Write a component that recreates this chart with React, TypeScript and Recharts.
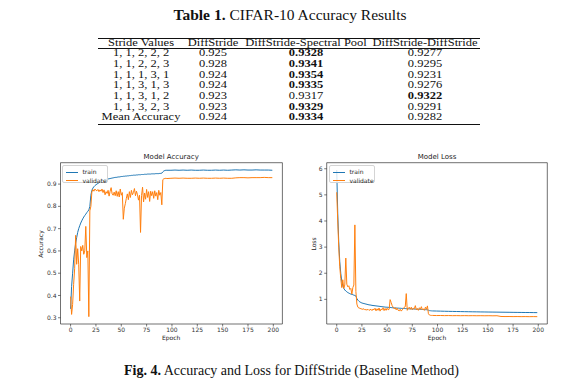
import React from "react";
import { LineChart, Line, XAxis, YAxis, ReferenceArea } from "recharts";

// epochs sampled from the training logs (every epoch while noisy, then every 4)
const epochs = [
  0, 1, 2, 3, 4, 5, 6, 7, 8, 9,
  10, 11, 12, 13, 14, 15, 16, 17, 18, 19,
  20, 21, 22, 23, 24, 25, 26, 27, 28, 29,
  30, 31, 32, 33, 34, 35, 36, 37, 38, 39,
  40, 41, 42, 43, 44, 45, 46, 47, 48, 49,
  50, 51, 52, 53, 54, 55, 56, 57, 58, 59,
  60, 61, 62, 63, 64, 65, 66, 67, 68, 69,
  70, 71, 72, 73, 74, 75, 76, 77, 78, 79,
  80, 81, 82, 83, 84, 85, 86, 87, 88, 89,
  90, 91, 92, 93, 94, 95,
  99, 103, 107, 111, 115, 119, 123, 127, 131, 135, 139, 143, 147,
  151, 155, 159, 163, 167, 171, 175, 179, 183, 187, 191, 195, 199,
];

const accTrain = [
  0.340, 0.440, 0.500, 0.560, 0.600, 0.635, 0.660, 0.683, 0.700, 0.713,
  0.725, 0.735, 0.744, 0.752, 0.759, 0.765, 0.772, 0.778, 0.784, 0.800,
  0.850, 0.872, 0.882, 0.888, 0.893, 0.897, 0.900, 0.903, 0.906, 0.909,
  0.912, 0.914, 0.916, 0.918, 0.919, 0.921, 0.922, 0.923, 0.924, 0.925,
  0.926, 0.927, 0.928, 0.929, 0.930, 0.930, 0.931, 0.932, 0.932, 0.933,
  0.934, 0.934, 0.935, 0.935, 0.936, 0.936, 0.937, 0.937, 0.938, 0.938,
  0.939, 0.939, 0.940, 0.940, 0.940, 0.941, 0.941, 0.942, 0.942, 0.942,
  0.943, 0.943, 0.943, 0.944, 0.944, 0.944, 0.945, 0.945, 0.945, 0.945,
  0.946, 0.946, 0.946, 0.946, 0.947, 0.947, 0.947, 0.947, 0.948, 0.948,
  0.949, 0.955, 0.959, 0.961, 0.962, 0.962,
  0.962, 0.963, 0.962, 0.963, 0.962, 0.963, 0.962, 0.962, 0.963, 0.962, 0.962, 0.963, 0.962,
  0.963, 0.962, 0.963, 0.964, 0.963, 0.964, 0.963, 0.963, 0.964, 0.963, 0.963, 0.963, 0.962,
];

const accValidate = [
  0.395, 0.315, 0.360, 0.450, 0.520, 0.670, 0.540, 0.610, 0.540, 0.375,
  0.620, 0.600, 0.625, 0.585, 0.600, 0.710, 0.570, 0.600, 0.305, 0.780,
  0.800, 0.865, 0.875, 0.868, 0.878, 0.872, 0.870, 0.876, 0.866, 0.874,
  0.868, 0.878, 0.862, 0.874, 0.852, 0.866, 0.858, 0.872, 0.846, 0.868,
  0.884, 0.856, 0.850, 0.864, 0.848, 0.870, 0.845, 0.866, 0.842, 0.878,
  0.850, 0.862, 0.742, 0.792, 0.812, 0.836, 0.856, 0.830, 0.866, 0.840,
  0.872, 0.852, 0.862, 0.880, 0.848, 0.868, 0.852, 0.828, 0.850, 0.683,
  0.848, 0.886, 0.820, 0.860, 0.832, 0.876, 0.840, 0.866, 0.822, 0.868,
  0.848, 0.866, 0.836, 0.870, 0.846, 0.862, 0.830, 0.872, 0.850, 0.862,
  0.807, 0.920, 0.924, 0.925, 0.926, 0.925,
  0.926, 0.927, 0.926, 0.927, 0.926, 0.926, 0.927, 0.926, 0.927, 0.926, 0.926, 0.927, 0.926,
  0.927, 0.926, 0.926, 0.928, 0.929, 0.929, 0.928, 0.929, 0.929, 0.929, 0.930, 0.929, 0.929,
];

const lossTrain = [
  5.95, 4.30, 3.20, 2.45, 2.00, 1.70, 1.52, 1.42, 1.36, 1.32,
  1.29, 1.26, 1.24, 1.22, 1.20, 1.19, 1.18, 1.16, 1.15, 1.13,
  1.03, 0.97, 0.93, 0.90, 0.88, 0.86, 0.85, 0.84, 0.83, 0.82,
  0.81, 0.80, 0.79, 0.785, 0.78, 0.77, 0.765, 0.76, 0.755, 0.75,
  0.745, 0.74, 0.735, 0.73, 0.725, 0.72, 0.715, 0.71, 0.705, 0.70,
  0.70, 0.695, 0.69, 0.69, 0.685, 0.68, 0.68, 0.675, 0.67, 0.67,
  0.665, 0.665, 0.66, 0.66, 0.655, 0.655, 0.65, 0.65, 0.648, 0.645,
  0.643, 0.64, 0.638, 0.636, 0.634, 0.632, 0.63, 0.628, 0.626, 0.624,
  0.622, 0.62, 0.618, 0.616, 0.614, 0.612, 0.61, 0.608, 0.606, 0.604,
  0.60, 0.585, 0.57, 0.565, 0.56, 0.557,
  0.553, 0.549, 0.545, 0.541, 0.538, 0.535, 0.532, 0.529, 0.527, 0.524, 0.522, 0.519, 0.517,
  0.515, 0.513, 0.511, 0.509, 0.507, 0.505, 0.503, 0.501, 0.499, 0.497, 0.496, 0.494, 0.492,
];

const lossValidate = [
  5.10, 4.00, 3.00, 2.25, 1.80, 1.45, 1.75, 1.42, 1.55, 2.58,
  1.58, 1.48, 1.52, 1.38, 1.42, 1.20, 1.45, 1.55, 3.85, 1.30,
  0.82, 0.70, 0.67, 0.66, 0.64, 0.63, 0.62, 0.64, 0.60, 0.61,
  0.59, 0.62, 0.58, 0.60, 0.62, 0.57, 0.63, 0.60, 0.66, 0.56,
  0.64, 0.58, 0.67, 0.55, 0.63, 0.60, 0.68, 0.57, 0.65, 0.58,
  0.66, 0.60, 0.62, 0.99, 0.88, 0.76, 0.70, 0.64, 0.68, 0.60,
  0.66, 0.58, 0.56, 0.62, 0.55, 0.60, 0.64, 0.70, 0.72, 1.22,
  0.58, 0.66, 0.70, 0.62, 0.70, 0.60, 0.66, 0.64, 0.76, 0.60,
  0.65, 0.58, 0.68, 0.62, 0.72, 0.60, 0.64, 0.58, 0.70, 0.62,
  0.75, 0.45, 0.40, 0.39, 0.385, 0.385,
  0.380, 0.382, 0.378, 0.380, 0.376, 0.378, 0.375, 0.377, 0.374, 0.376, 0.373, 0.375, 0.372,
  0.374, 0.371, 0.373, 0.345, 0.342, 0.343, 0.340, 0.342, 0.339, 0.341, 0.338, 0.340, 0.338,
];

const epochTicks = [0, 25, 50, 75, 100, 125, 150, 175, 200];
const accTicks = [0.3, 0.4, 0.5, 0.6, 0.7, 0.8, 0.9];
const lossTicks = [1, 2, 3, 4, 5, 6];

// table 1
const tableHeaders = ["Stride Values", "DiffStride", "DiffStride-Spectral Pool", "DiffStride-DiffStride"];
const strideValues = ["1, 1, 2, 2, 2", "1, 1, 2, 2, 3", "1, 1, 1, 3, 1", "1, 1, 3, 1, 3", "1, 1, 3, 1, 2", "1, 1, 3, 2, 3", "Mean Accuracy"];
const diffStrideAcc = ["0.925", "0.928", "0.924", "0.924", "0.923", "0.923", "0.924"];
const spectralPoolAcc = ["0.9328", "0.9341", "0.9354", "0.9335", "0.9317", "0.9329", "0.9334"];
const diffDiffAcc = ["0.9277", "0.9295", "0.9231", "0.9276", "0.9322", "0.9291", "0.9282"];

const BLUE = "#1f77b4";
const ORANGE = "#ff7f0e";
const SANS = "'DejaVu Sans', sans-serif";
const SERIF = "'Liberation Serif', serif";

const COL_X = [141, 213, 306, 425];
const ROW_Y = [53.3, 64, 74.6, 85.3, 96, 106.6, 117.3];
const X_DOMAIN: [number, number] = [-9.95, 208.95];

function Cell({ x, y, text, bold }: { x: number; y: number; text: string; bold?: boolean }) {
  // rows are packed tighter than the font's line box, so the glyphs are squeezed a little
  return (
    <div
      style={{
        position: "absolute",
        left: x,
        top: y - 5,
        height: 10,
        lineHeight: "10px",
        transform: "translateX(-50%) scaleY(0.76)",
        transformOrigin: "50% 50%",
        fontFamily: SERIF,
        fontSize: 12.5,
        fontWeight: bold ? 700 : 400,
        color: "#111",
        whiteSpace: "nowrap",
      }}
    >
      {text}
    </div>
  );
}

function Rule({ y, h }: { y: number; h: number }) {
  return <div style={{ position: "absolute", left: 98, top: y, width: 382, height: h, background: "#111" }} />;
}

function Legend({ left, top }: { left: number; top: number }) {
  const items = [
    { name: "train", color: BLUE },
    { name: "validate", color: ORANGE },
  ];
  return (
    <div
      style={{
        position: "absolute",
        left,
        top,
        width: 46,
        height: 18,
        border: "0.6px solid #d4d4d4",
        borderRadius: 2,
        background: "rgba(255,255,255,0.8)",
        boxSizing: "border-box",
      }}
    >
      {items.map((it, i) => (
        <div key={it.name} style={{ position: "absolute", left: 2.5, top: 3 + i * 8.6, height: 6, display: "flex", alignItems: "center" }}>
          <div style={{ width: 12, height: 1, background: it.color }} />
          <span style={{ marginLeft: 5, fontFamily: SANS, fontSize: 6, color: "#222", lineHeight: "6px" }}>{it.name}</span>
        </div>
      ))}
    </div>
  );
}

interface PanelProps {
  left: number;
  yAxisWidth: number;
  rightMargin: number;
  data: { epoch: number; train: number; validate: number }[];
  yDomain: [number, number];
  yTicks: number[];
  fmt: (v: number) => string;
}

function Panel({ left, yAxisWidth, rightMargin, data, yDomain, yTicks, fmt }: PanelProps) {
  return (
    <div style={{ position: "absolute", left, top: 145 }}>
      <LineChart width={270} height={200} data={data} margin={{ top: 17.7, right: rightMargin, bottom: 1, left: 0 }}>
        <XAxis
          dataKey="epoch"
          type="number"
          domain={X_DOMAIN}
          ticks={epochTicks}
          allowDataOverflow
          height={20}
          axisLine={false}
          tickSize={2.5}
          tickMargin={1.5}
          tickLine={{ stroke: "#222", strokeWidth: 0.6 }}
          tick={{ fontFamily: SANS, fontSize: 6, fill: "#333" }}
          interval={0}
        />
        <YAxis
          type="number"
          domain={yDomain}
          ticks={yTicks}
          allowDataOverflow
          width={yAxisWidth}
          axisLine={false}
          tickSize={2.5}
          tickMargin={1.5}
          tickLine={{ stroke: "#222", strokeWidth: 0.6 }}
          tick={{ fontFamily: SANS, fontSize: 6, fill: "#333" }}
          tickFormatter={fmt}
          interval={0}
        />
        <Line type="linear" dataKey="train" stroke={BLUE} strokeWidth={1} dot={false} isAnimationActive={false} />
        <Line type="linear" dataKey="validate" stroke={ORANGE} strokeWidth={1} dot={false} isAnimationActive={false} />
        <ReferenceArea
          x1={X_DOMAIN[0]}
          x2={X_DOMAIN[1]}
          y1={yDomain[0]}
          y2={yDomain[1]}
          fill="none"
          stroke="#333"
          strokeWidth={0.7}
          ifOverflow="visible"
        />
      </LineChart>
    </div>
  );
}

function Label({ x, y, text, size, rotate }: { x: number; y: number; text: string; size: number; rotate?: boolean }) {
  return (
    <div
      style={{
        position: "absolute",
        left: x - 50,
        top: y - 5,
        width: 100,
        height: 10,
        lineHeight: "10px",
        textAlign: "center",
        fontFamily: SANS,
        fontSize: size,
        color: "#222",
        transform: rotate ? "rotate(-90deg)" : undefined,
        whiteSpace: "nowrap",
      }}
    >
      {text}
    </div>
  );
}

export default function App() {
  const accData = epochs.map((e, i) => ({ epoch: e, train: accTrain[i], validate: accValidate[i] }));
  const lossData = epochs.map((e, i) => ({ epoch: e, train: lossTrain[i], validate: lossValidate[i] }));

  return (
    <div style={{ position: "absolute", left: 0, top: 0, width: 567, height: 381, background: "#fff", overflow: "hidden" }}>
      {/* table title */}
      <div style={{ position: "absolute", left: 90, top: 7, width: 400, textAlign: "center", fontFamily: SERIF, fontSize: 15.5, lineHeight: "16px", color: "#111" }}>
        <b>Table 1.</b> CIFAR-10 Accuracy Results
      </div>

      <Rule y={38} h={1} />
      {tableHeaders.map((h, i) => (
        <Cell key={h} x={COL_X[i]} y={43.3} text={h} />
      ))}
      <Rule y={48} h={0.6} />
      {strideValues.map((s, r) => {
        const sp = parseFloat(spectralPoolAcc[r]);
        const dd = parseFloat(diffDiffAcc[r]);
        return (
          <React.Fragment key={s}>
            <Cell x={COL_X[0]} y={ROW_Y[r]} text={s} />
            <Cell x={COL_X[1]} y={ROW_Y[r]} text={diffStrideAcc[r]} />
            <Cell x={COL_X[2]} y={ROW_Y[r]} text={spectralPoolAcc[r]} bold={sp >= dd} />
            <Cell x={COL_X[3]} y={ROW_Y[r]} text={diffDiffAcc[r]} bold={dd > sp} />
          </React.Fragment>
        );
      })}
      <Rule y={123.5} h={1.2} />

      {/* accuracy panel */}
      <Panel left={20} yAxisWidth={40.5} rightMargin={7.6} data={accData} yDomain={[0.272, 0.996]} yTicks={accTicks} fmt={(v) => v.toFixed(1)} />
      <Label x={171.2} y={157} text="Model Accuracy" size={7} />
      <Label x={171.2} y={338.3} text="Epoch" size={6} />
      <Label x={40.7} y={244} text="Accuracy" size={6} rotate />
      <Legend left={62} top={165} />

      {/* loss panel */}
      <Panel left={290} yAxisWidth={36.7} rightMargin={12.7} data={lossData} yDomain={[0.057, 6.231]} yTicks={lossTicks} fmt={(v) => String(v)} />
      <Label x={437} y={157} text="Model Loss" size={7} />
      <Label x={437} y={338.3} text="Epoch" size={6} />
      <Label x={314} y={244} text="Loss" size={6} rotate />
      <Legend left={329} top={165} />

      {/* figure caption */}
      <div style={{ position: "absolute", left: 90, top: 363, width: 403, textAlign: "center", fontFamily: SERIF, fontSize: 14, lineHeight: "16px", color: "#111" }}>
        <b>Fig. 4.</b> Accuracy and Loss for DiffStride (Baseline Method)
      </div>
    </div>
  );
}
